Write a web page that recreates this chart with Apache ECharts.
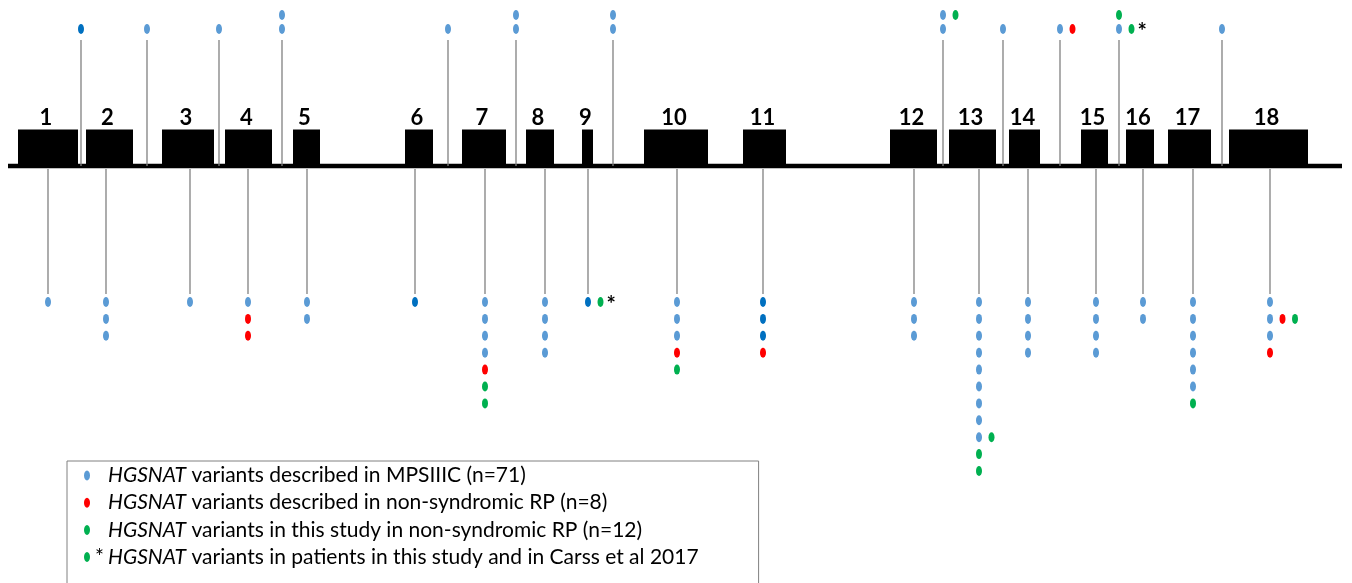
<!DOCTYPE html>
<html><head><meta charset="utf-8">
<script src="https://cdn.jsdelivr.net/npm/echarts@6/dist/echarts.min.js"></script>
<style>html,body{margin:0;padding:0;background:#fff}#c{width:1352px;height:583px}</style>
</head><body><div id="c"></div>
<script>
// ---------------- DATA ----------------
const exonLabels = ['1','2','3','4','5','6','7','8','9','10','11','12','13','14','15','16','17','18'];
const exonStart  = [18, 86, 162, 225, 293, 405, 462, 526, 582, 644, 743, 890, 949, 1009, 1081, 1126, 1168, 1229];
const exonEnd    = [78, 133, 214, 272, 320, 433, 506, 554, 593, 708, 786, 937, 996, 1040, 1108, 1154, 1211, 1308];
const geneStart = 8;
const geneEnd = 1342;
// intronic variants (drawn above the gene); rows from the line outward, each row lists side-by-side variants
// b = MPSIIIC (light), d = MPSIIIC (dark), r = non-syndromic RP, g = this study, c = this study & Carss et al
const intronSites = [81, 147, 219, 282, 448, 516, 613, 943, 1003, 1060, 1119, 1222];
const intronVariants = [
  [['d']],
  [['b']],
  [['b']],
  [['b'], ['b']],
  [['b']],
  [['b'], ['b']],
  [['b'], ['b']],
  [['b'], ['b', 'g']],
  [['b']],
  [['b', 'r']],
  [['b', 'c'], ['g']],
  [['b']]
];
// exonic variants (drawn below the gene)
const exonSites = [48, 106, 190, 248, 307, 415, 485, 545, 588, 677, 763, 914, 979, 1028, 1096, 1143, 1193, 1270];
const exonVariants = [
  [['b']],
  [['b'], ['b'], ['b']],
  [['b']],
  [['b'], ['r'], ['r']],
  [['b'], ['b']],
  [['d']],
  [['b'], ['b'], ['b'], ['b'], ['r'], ['g'], ['g']],
  [['b'], ['b'], ['b'], ['b']],
  [['d', 'c']],
  [['b'], ['b'], ['b'], ['r'], ['g']],
  [['d'], ['d'], ['d'], ['r']],
  [['b'], ['b'], ['b']],
  [['b'], ['b'], ['b'], ['b'], ['b'], ['b'], ['b'], ['b'], ['b', 'g'], ['g'], ['g']],
  [['b'], ['b'], ['b'], ['b']],
  [['b'], ['b'], ['b'], ['b']],
  [['b'], ['b']],
  [['b'], ['b'], ['b'], ['b'], ['b'], ['b'], ['g']],
  [['b'], ['b', 'r', 'g'], ['b'], ['r']]
];
const legendNames = [
  'HGSNAT variants described in MPSIIIC (n=71)',
  'HGSNAT variants described in non-syndromic RP (n=8)',
  'HGSNAT variants in this study in non-syndromic RP (n=12)',
  'HGSNAT variants in patients in this study and in Carss et al 2017'
];

// ---------------- LAYOUT ----------------
const L = {
  baseY: 166, exonTop: 129.5, exonBottom: 168, labelY: 118, labelDx: -2,
  upStemTop: 40, upRow0: 29, upStep: 14,
  downStemTop: 169, downStemBottom: 294, downRow0: 302, downStep: 16.9,
  sideStep: 12.5
};
const colors = { b: '#5b9bd5', d: '#0070c0', r: '#ff0000', g: '#00b050', c: '#00b050' };

const pts = { b: [], d: [], r: [], g: [], c: [] };
const stems = [];
intronSites.forEach((x, i) => {
  stems.push([x, L.baseY, L.upStemTop]);
  intronVariants[i].forEach((row, r) => row.forEach((k, c) => {
    pts[k].push([x + c * L.sideStep, L.upRow0 - r * L.upStep]);
  }));
});
exonSites.forEach((x, i) => {
  stems.push([x, L.downStemTop, L.downStemBottom]);
  exonVariants[i].forEach((row, r) => row.forEach((k, c) => {
    pts[k].push([x + c * L.sideStep, L.downRow0 + r * L.downStep]);
  }));
});
const exonData = exonStart.map((s, i) => [s, exonEnd[i]]);

const dotSize = [6, 10];
function dotSeries(name, key, extra) {
  return Object.assign({
    name: name, type: 'scatter', data: pts[key], symbol: 'circle', symbolSize: dotSize,
    itemStyle: { color: colors[key], opacity: 1 }, z: 5, silent: true
  }, extra || {});
}
const FONT = 'Lato';
const chart = echarts.init(document.getElementById('c'), null, { renderer: 'canvas' });
chart.setOption({
  animation: false,
  backgroundColor: '#fff',
  grid: { left: 0, right: 0, top: 0, bottom: 0 },
  xAxis: { type: 'value', min: 0, max: 1352, show: false },
  yAxis: { type: 'value', min: 0, max: 583, inverse: true, show: false },
  legend: {
    data: legendNames, orient: 'vertical', left: 67, top: 461, height: 300,
    itemWidth: 6, itemHeight: 10, itemGap: 6.2, selectedMode: false,
    padding: [4, 60, 60, 17], borderColor: '#808080', borderWidth: 1,
    icon: 'path://M3,0C4.66,0 6,2.24 6,5C6,7.76 4.66,10 3,10C1.34,10 0,7.76 0,5C0,2.24 1.34,0 3,0Z',
    formatter: function (n) {
      const rest = n.replace('HGSNAT', '');
      const lead = n === legendNames[3] ? '{st|*}' : '{sp|}';
      return lead + '{i|HGSNAT}{t|' + rest + '}';
    },
    textStyle: {
      fontFamily: FONT, fontSize: 21, color: '#000',
      rich: {
        sp: { width: 13, fontSize: 21, fontFamily: FONT },
        st: { width: 13, fontSize: 21, fontFamily: FONT, color: '#000' },
        i: { fontStyle: 'italic', fontSize: 21, fontFamily: FONT, color: '#000' },
        t: { fontSize: 21, fontFamily: FONT, color: '#000' }
      }
    }
  },
  series: [
    {
      type: 'line', data: [[geneStart, L.baseY], [geneEnd, L.baseY]], symbol: 'none',
      lineStyle: { color: '#000', width: 4.5 }, silent: true, z: 1
    },
    {
      type: 'custom', data: stems, silent: true, z: 2,
      renderItem: function (p, api) {
        const a = api.coord([api.value(0), api.value(1)]);
        const b = api.coord([api.value(0), api.value(2)]);
        return { type: 'line', shape: { x1: a[0], y1: a[1], x2: b[0], y2: b[1] },
          style: { stroke: '#808080', lineWidth: 1.3 } };
      }
    },
    {
      type: 'custom', data: exonData, silent: true, z: 3,
      renderItem: function (p, api) {
        const s = api.coord([api.value(0), L.exonTop]);
        const e = api.coord([api.value(1), L.exonBottom]);
        const c = api.coord([(api.value(0) + api.value(1)) / 2 + L.labelDx, L.labelY]);
        return { type: 'group', children: [
          { type: 'rect', shape: { x: s[0], y: s[1], width: e[0] - s[0], height: e[1] - s[1] },
            style: { fill: '#000' } },
          { type: 'text', x: c[0], y: c[1],
            style: { text: exonLabels[p.dataIndex], fontFamily: FONT, fontWeight: 'bold', fontSize: 22,
              fill: '#000', align: 'center', verticalAlign: 'middle' } }
        ] };
      }
    },
    dotSeries(legendNames[0], 'b'),
    dotSeries('dark', 'd'),
    dotSeries(legendNames[1], 'r'),
    dotSeries(legendNames[2], 'g'),
    dotSeries(legendNames[3], 'c', {
      label: { show: true, position: 'right', distance: 3, formatter: '*',
        fontFamily: FONT, fontSize: 22, color: '#000', fontWeight: 'bold', offset: [0, 3] }
    })
  ]
});
</script></body></html>
